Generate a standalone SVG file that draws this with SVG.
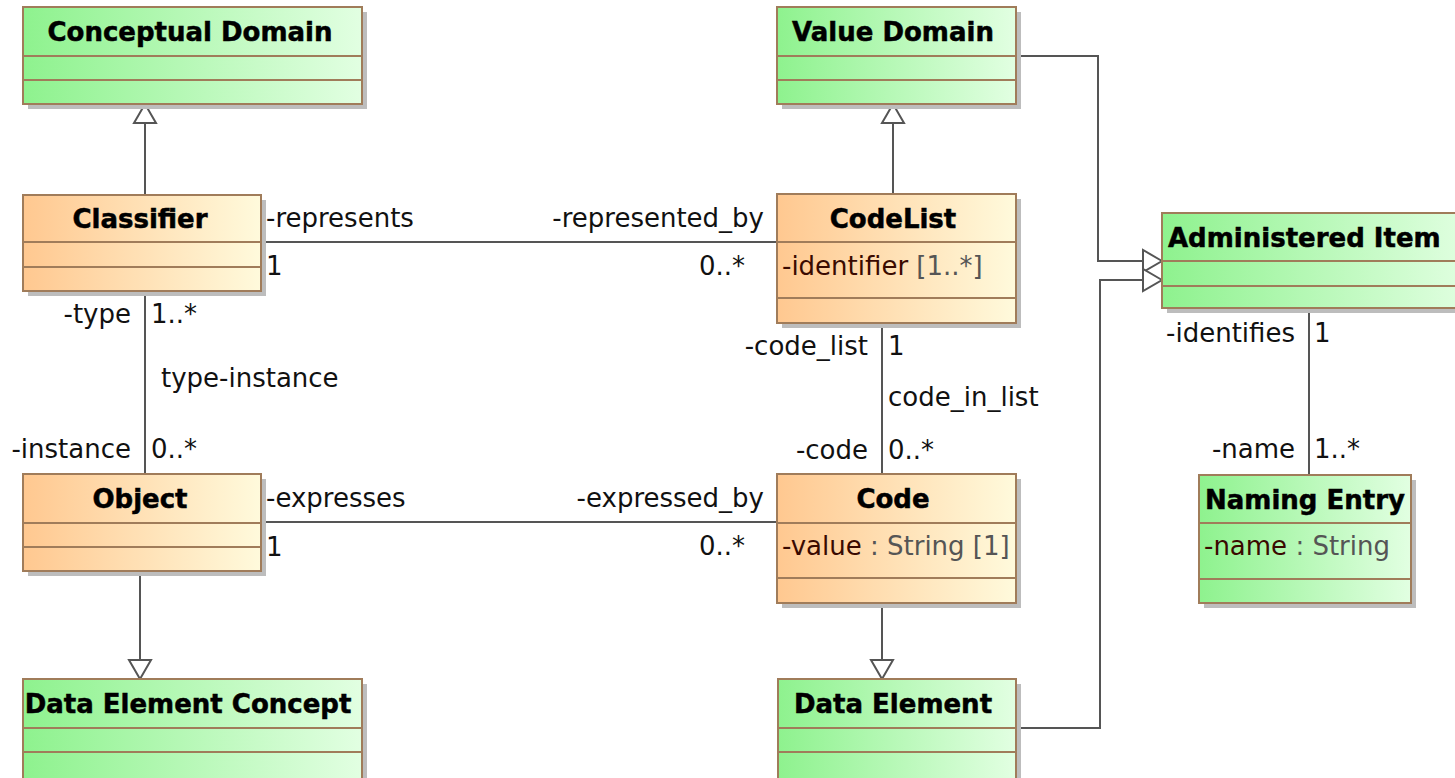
<svg xmlns="http://www.w3.org/2000/svg" width="1455" height="778" viewBox="0 0 1455 778">
<style>
.box{stroke:#a07c5a;stroke-width:2}
.sep{stroke:#a07c5a;stroke-width:2}
.shadow{fill:#bdbdbd}
.g{fill:url(#green)}
.o{fill:url(#orange)}
.title{font-family:"DejaVu Sans",sans-serif;font-weight:bold;font-size:26px;fill:#000;stroke:#000;stroke-width:0.5;text-anchor:middle}
.lbl{font-family:"DejaVu Sans",sans-serif;font-size:26px;fill:#111}
.end{text-anchor:end}
.attr{font-family:"DejaVu Sans",sans-serif;font-size:26px;fill:#3a0a00}
.gray{fill:#555}
.line{stroke:#555;stroke-width:2;fill:none}
.tri{fill:#fff;stroke:#555;stroke-width:2}
</style>
<defs>
<linearGradient id="green" x1="0" y1="0" x2="1" y2="0">
<stop offset="0" stop-color="#8ef28e"/>
<stop offset="1" stop-color="#e2ffe2"/>
</linearGradient>
<linearGradient id="orange" x1="0" y1="0" x2="1" y2="0">
<stop offset="0" stop-color="#ffc890"/>
<stop offset="1" stop-color="#fffadc"/>
</linearGradient>
</defs>
<rect width="1455" height="778" fill="#fff"/>

<g id="connectors">
<!-- generalizations -->
<line class="line" x1="145" y1="195" x2="145" y2="123"/>
<polygon class="tri" points="145,104 134,123 156,123"/>
<line class="line" x1="893" y1="194" x2="893" y2="123"/>
<polygon class="tri" points="893,104 882,123 904,123"/>
<line class="line" x1="140" y1="571" x2="140" y2="660"/>
<polygon class="tri" points="140,679 129,660 151,660"/>
<line class="line" x1="882" y1="603" x2="882" y2="660"/>
<polygon class="tri" points="882,679 871,660 893,660"/>
<polyline class="line" points="1016,56 1098,56 1098,261 1143,261"/>
<polygon class="tri" points="1162,261 1143,250 1143,272"/>
<polyline class="line" points="1016,728 1100,728 1100,280 1143,280"/>
<polygon class="tri" points="1162,280 1143,269 1143,291"/>
<!-- associations -->
<line class="line" x1="261" y1="242" x2="777" y2="242"/>
<line class="line" x1="261" y1="522" x2="777" y2="522"/>
<line class="line" x1="145" y1="291" x2="145" y2="474"/>
<line class="line" x1="882" y1="323" x2="882" y2="474"/>
<line class="line" x1="1309" y1="308" x2="1309" y2="475"/>
<!-- labels -->
<text class="lbl" x="266" y="227">-represents</text>
<text class="lbl" x="266" y="275">1</text>
<text class="lbl end" x="764" y="227">-represented_by</text>
<text class="lbl end" x="745" y="275">0..*</text>
<text class="lbl end" x="131" y="323">-type</text>
<text class="lbl" x="151" y="323">1..*</text>
<text class="lbl" x="161" y="387">type-instance</text>
<text class="lbl end" x="131" y="458">-instance</text>
<text class="lbl" x="151" y="458">0..*</text>
<text class="lbl" x="266" y="507">-expresses</text>
<text class="lbl" x="266" y="556">1</text>
<text class="lbl end" x="764" y="507">-expressed_by</text>
<text class="lbl end" x="745" y="555">0..*</text>
<text class="lbl end" x="868" y="355">-code_list</text>
<text class="lbl" x="888" y="355">1</text>
<text class="lbl" x="888" y="406">code_in_list</text>
<text class="lbl end" x="868" y="459">-code</text>
<text class="lbl" x="888" y="459">0..*</text>
<text class="lbl end" x="1295" y="342">-identifies</text>
<text class="lbl" x="1314" y="342">1</text>
<text class="lbl end" x="1295" y="458">-name</text>
<text class="lbl" x="1314" y="458">1..*</text>
</g>

<g id="conceptual-domain">
<rect class="shadow" x="28" y="12" width="339" height="97"/>
<rect class="box g" x="23" y="7" width="339" height="97"/>
<line class="sep" x1="23" y1="56" x2="362" y2="56"/>
<line class="sep" x1="23" y1="80" x2="362" y2="80"/>
<text class="title" x="190" y="41">Conceptual Domain</text>
</g>

<g id="value-domain">
<rect class="shadow" x="782" y="12" width="239" height="97"/>
<rect class="box g" x="777" y="7" width="239" height="97"/>
<line class="sep" x1="777" y1="56" x2="1016" y2="56"/>
<line class="sep" x1="777" y1="80" x2="1016" y2="80"/>
<text class="title" x="893" y="41">Value Domain</text>
</g>

<g id="classifier">
<rect class="shadow" x="28" y="200" width="238" height="96"/>
<rect class="box o" x="23" y="195" width="238" height="96"/>
<line class="sep" x1="23" y1="242" x2="261" y2="242"/>
<line class="sep" x1="23" y1="267" x2="261" y2="267"/>
<text class="title" x="140" y="228">Classifier</text>
</g>

<g id="codelist">
<rect class="shadow" x="782" y="199" width="239" height="129"/>
<rect class="box o" x="777" y="194" width="239" height="129"/>
<line class="sep" x1="777" y1="242" x2="1016" y2="242"/>
<line class="sep" x1="777" y1="298" x2="1016" y2="298"/>
<text class="title" x="893" y="228">CodeList</text>
<text class="attr" x="782" y="275">-identifier <tspan class="gray">[1..*]</tspan></text>
</g>

<g id="object">
<rect class="shadow" x="28" y="479" width="238" height="97"/>
<rect class="box o" x="23" y="474" width="238" height="97"/>
<line class="sep" x1="23" y1="523" x2="261" y2="523"/>
<line class="sep" x1="23" y1="547" x2="261" y2="547"/>
<text class="title" x="140" y="508">Object</text>
</g>

<g id="code">
<rect class="shadow" x="782" y="479" width="239" height="129"/>
<rect class="box o" x="777" y="474" width="239" height="129"/>
<line class="sep" x1="777" y1="523" x2="1016" y2="523"/>
<line class="sep" x1="777" y1="578" x2="1016" y2="578"/>
<text class="title" x="893" y="508">Code</text>
<text class="attr" x="782" y="555">-value <tspan class="gray">: String [1]</tspan></text>
</g>

<g id="data-element-concept">
<rect class="shadow" x="28" y="684" width="339" height="100"/>
<rect class="box g" x="23" y="679" width="339" height="105"/>
<line class="sep" x1="23" y1="728" x2="362" y2="728"/>
<line class="sep" x1="23" y1="752" x2="362" y2="752"/>
<text class="title" x="188" y="713">Data Element Concept</text>
</g>

<g id="data-element">
<rect class="shadow" x="783" y="684" width="238" height="100"/>
<rect class="box g" x="778" y="679" width="238" height="105"/>
<line class="sep" x1="778" y1="728" x2="1016" y2="728"/>
<line class="sep" x1="778" y1="752" x2="1016" y2="752"/>
<text class="title" x="893" y="713">Data Element</text>
</g>

<g id="administered-item">
<rect class="shadow" x="1167" y="218" width="310" height="95"/>
<rect class="box g" x="1162" y="213" width="310" height="95"/>
<line class="sep" x1="1162" y1="261" x2="1472" y2="261"/>
<line class="sep" x1="1162" y1="286" x2="1472" y2="286"/>
<text class="title" x="1168" y="247" style="text-anchor:start">Administered Item</text>
</g>

<g id="naming-entry">
<rect class="shadow" x="1204" y="480" width="212" height="128"/>
<rect class="box g" x="1199" y="475" width="212" height="128"/>
<line class="sep" x1="1199" y1="523" x2="1411" y2="523"/>
<line class="sep" x1="1199" y1="579" x2="1411" y2="579"/>
<text class="title" x="1305" y="509">Naming Entry</text>
<text class="attr" x="1204" y="555">-name <tspan class="gray">: String</tspan></text>
</g>
</svg>
